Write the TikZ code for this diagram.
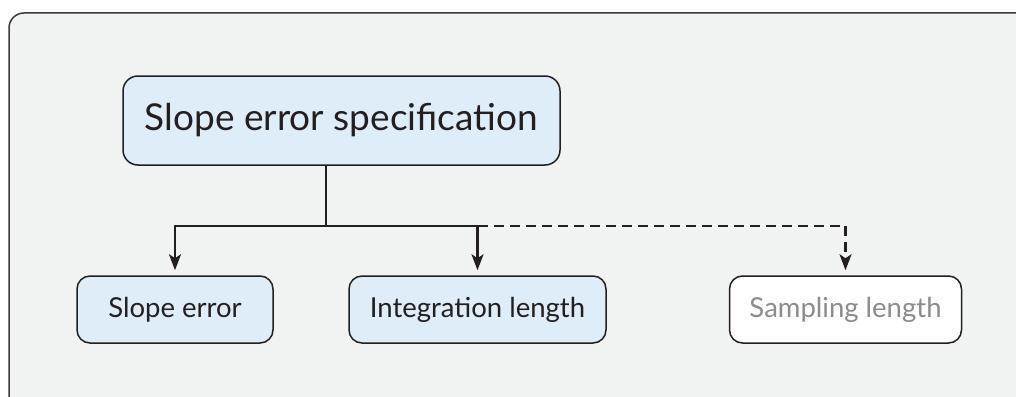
\documentclass[tikz,border=0pt]{standalone}
\usepackage{fontspec}
\setmainfont{Lato}
\usetikzlibrary{arrows.meta}
\definecolor{bgc}{HTML}{F1F3F3}
\definecolor{boxc}{HTML}{DFEDF9}
\definecolor{linec}{HTML}{231F20}
\definecolor{framec}{HTML}{3A3A3A}
\definecolor{greyt}{HTML}{8A8C8E}
\tikzset{
  box/.style={draw=linec, line width=1.5pt, rounded corners=13pt, fill=boxc,
    text=linec, inner sep=0pt, minimum height=67pt, font=\fontsize{27.5}{32}\selectfont},
  topbox/.style={box, minimum height=89pt, rounded corners=15pt, font=\fontsize{37}{42}\selectfont},
  ghostbox/.style={box, fill=white, text=greyt},
  conn/.style={draw=linec, line width=2.4pt},
  arr/.style={conn, -{Stealth[length=16pt, width=12pt, inset=4pt]}, shorten >=5pt},
  dashconn/.style={arr, dash pattern=on 10pt off 6pt},
}
\begin{document}
\begin{tikzpicture}[x=1pt, y=-1pt]
\useasboundingbox (0,0) rectangle (1016,396);
\clip (0,0) rectangle (1016,396);
\draw[fill=bgc, draw=framec, line width=1.5pt, rounded corners=15pt] (9,13) rectangle (1040,420);
\node[topbox, minimum width=437pt] (top) at (341.5,120.5) {Slope error specification};
\node[box, minimum width=196pt] (slope) at (175,309.5) {Slope error};
\node[box, minimum width=257pt] (integ) at (477.5,309.5) {Integration length};
\node[ghostbox, minimum width=232pt] (samp) at (845.5,309.5) {Sampling length};
\coordinate (j) at (326,226);
\draw[conn] (top.south -| j) -- (j);
\draw[arr] (j) -| (slope.north);
\draw[arr] (j) -| (integ.north);
\draw[dashconn] (integ.north |- j) -| (samp.north);
\end{tikzpicture}
\end{document}
